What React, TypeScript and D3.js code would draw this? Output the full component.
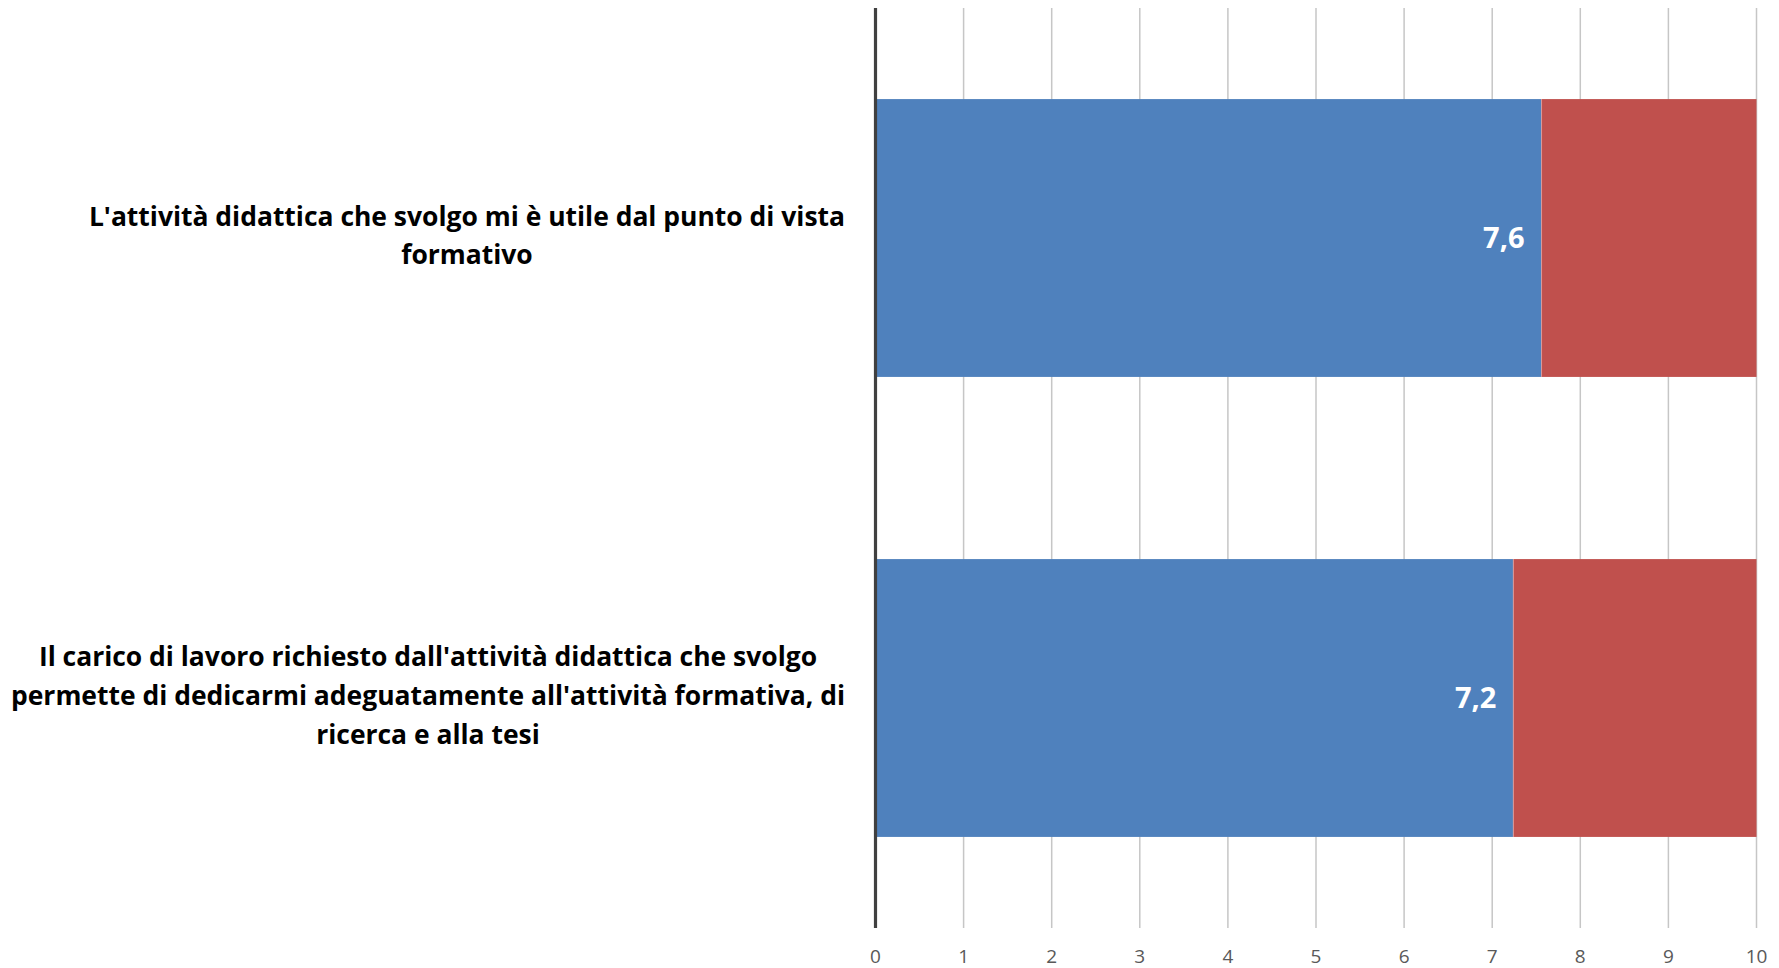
import React, { useEffect, useRef } from "react";
import * as d3 from "d3";

const categories: string[][] = [
  ["L'attività didattica che svolgo mi è utile dal punto di vista", "formativo"],
  [
    "Il carico di lavoro richiesto dall'attività didattica che svolgo",
    "permette di dedicarmi adeguatamente all'attività formativa, di",
    "ricerca e alla tesi",
  ],
];
const meanValues = [7.56, 7.24];
const meanLabels = ["7,6", "7,2"];
const restValues = [2.44, 2.76];
const xTicks = [0, 1, 2, 3, 4, 5, 6, 7, 8, 9, 10];

const W = 1779;
const H = 968;
const M = { left: 875.5, right: 22.5, top: 8, bottom: 40 };

export default function App() {
  const ref = useRef<SVGSVGElement>(null);

  useEffect(() => {
    const svg = d3.select(ref.current!);
    svg.selectAll("*").remove();

    const x = d3.scaleLinear().domain([0, 10]).range([M.left, W - M.right]);
    const y = d3
      .scaleBand<number>()
      .domain(categories.map((_, i) => i))
      .range([M.top, H - M.bottom])
      .paddingInner(0.396)
      .paddingOuter(0.198);

    // gridlines
    svg
      .append("g")
      .selectAll("line")
      .data(xTicks.slice(1))
      .join("line")
      .attr("x1", (d) => x(d))
      .attr("x2", (d) => x(d))
      .attr("y1", M.top)
      .attr("y2", H - M.bottom)
      .attr("stroke", "#c6c6c6")
      .attr("stroke-width", 1.5);

    // bars
    const g = svg.append("g");
    categories.forEach((_, i) => {
      g.append("rect")
        .attr("x", x(0))
        .attr("y", y(i)!)
        .attr("width", x(meanValues[i]) - x(0))
        .attr("height", y.bandwidth())
        .attr("fill", "#4f81bd");
      g.append("rect")
        .attr("x", x(meanValues[i]))
        .attr("y", y(i)!)
        .attr("width", x(meanValues[i] + restValues[i]) - x(meanValues[i]))
        .attr("height", y.bandwidth())
        .attr("fill", "#c0504d");
      g.append("line")
        .attr("x1", x(meanValues[i]))
        .attr("x2", x(meanValues[i]))
        .attr("y1", y(i)!)
        .attr("y2", y(i)! + y.bandwidth())
        .attr("stroke", "#d89a9a")
        .attr("stroke-width", 1);
      g.append("text")
        .attr("x", x(meanValues[i]) - 17)
        .attr("y", y(i)! + y.bandwidth() / 2 + 2)
        .attr("text-anchor", "end")
        .attr("dominant-baseline", "middle")
        .attr("font-family", "'Open Sans', sans-serif")
        .attr("font-weight", "bold")
        .attr("font-size", 29)
        .attr("fill", "#ffffff")
        .text(meanLabels[i]);
    });

    // axis line
    svg
      .append("line")
      .attr("x1", x(0))
      .attr("x2", x(0))
      .attr("y1", M.top)
      .attr("y2", H - M.bottom)
      .attr("stroke", "#404040")
      .attr("stroke-width", 3.2);

    // tick labels
    svg
      .append("g")
      .selectAll("text")
      .data(xTicks)
      .join("text")
      .attr("x", (d) => x(d))
      .attr("y", H - 5)
      .attr("text-anchor", "middle")
      .attr("font-family", "'Open Sans', sans-serif")
      .attr("font-size", 19)
      .attr("fill", "#595959")
      .text((d) => String(d));

    // category labels
    const lineH = 38.6;
    const blockRight = 845;
    const targetMax = 834;
    const groups: { texts: d3.Selection<SVGTextElement, unknown, null, undefined>[] }[] = [];
    categories.forEach((lines, i) => {
      const cy = y(i)! + y.bandwidth() / 2;
      const tg = svg.append("g");
      const texts = lines.map((ln, j) =>
        tg
          .append("text")
          .attr("y", cy + (j - (lines.length - 1) / 2) * lineH)
          .attr("text-anchor", "middle")
          .attr("dominant-baseline", "middle")
          .attr("font-family", "'Open Sans', sans-serif")
          .attr("font-weight", "bold")
          .attr("font-size", 26)
          .attr("fill", "#000000")
          .text(ln)
      );
      groups.push({ texts });
    });
    const widths = groups.map((gr) =>
      gr.texts.map((t) => (t.node() as SVGTextElement).getComputedTextLength())
    );
    const globalMax = d3.max(widths.flat()) || 1;
    const k = targetMax / globalMax;
    groups.forEach((gr, i) => {
      const maxW = (d3.max(widths[i]) || 0) * k;
      const cx = blockRight - maxW / 2;
      gr.texts.forEach((t, j) => {
        t.attr("x", cx).attr("textLength", widths[i][j] * k).attr("lengthAdjust", "spacingAndGlyphs");
      });
    });
  }, []);

  return (
    <svg
      ref={ref}
      width={W}
      height={H}
      style={{ position: "absolute", left: 0, top: 0, background: "#fff" }}
    />
  );
}
